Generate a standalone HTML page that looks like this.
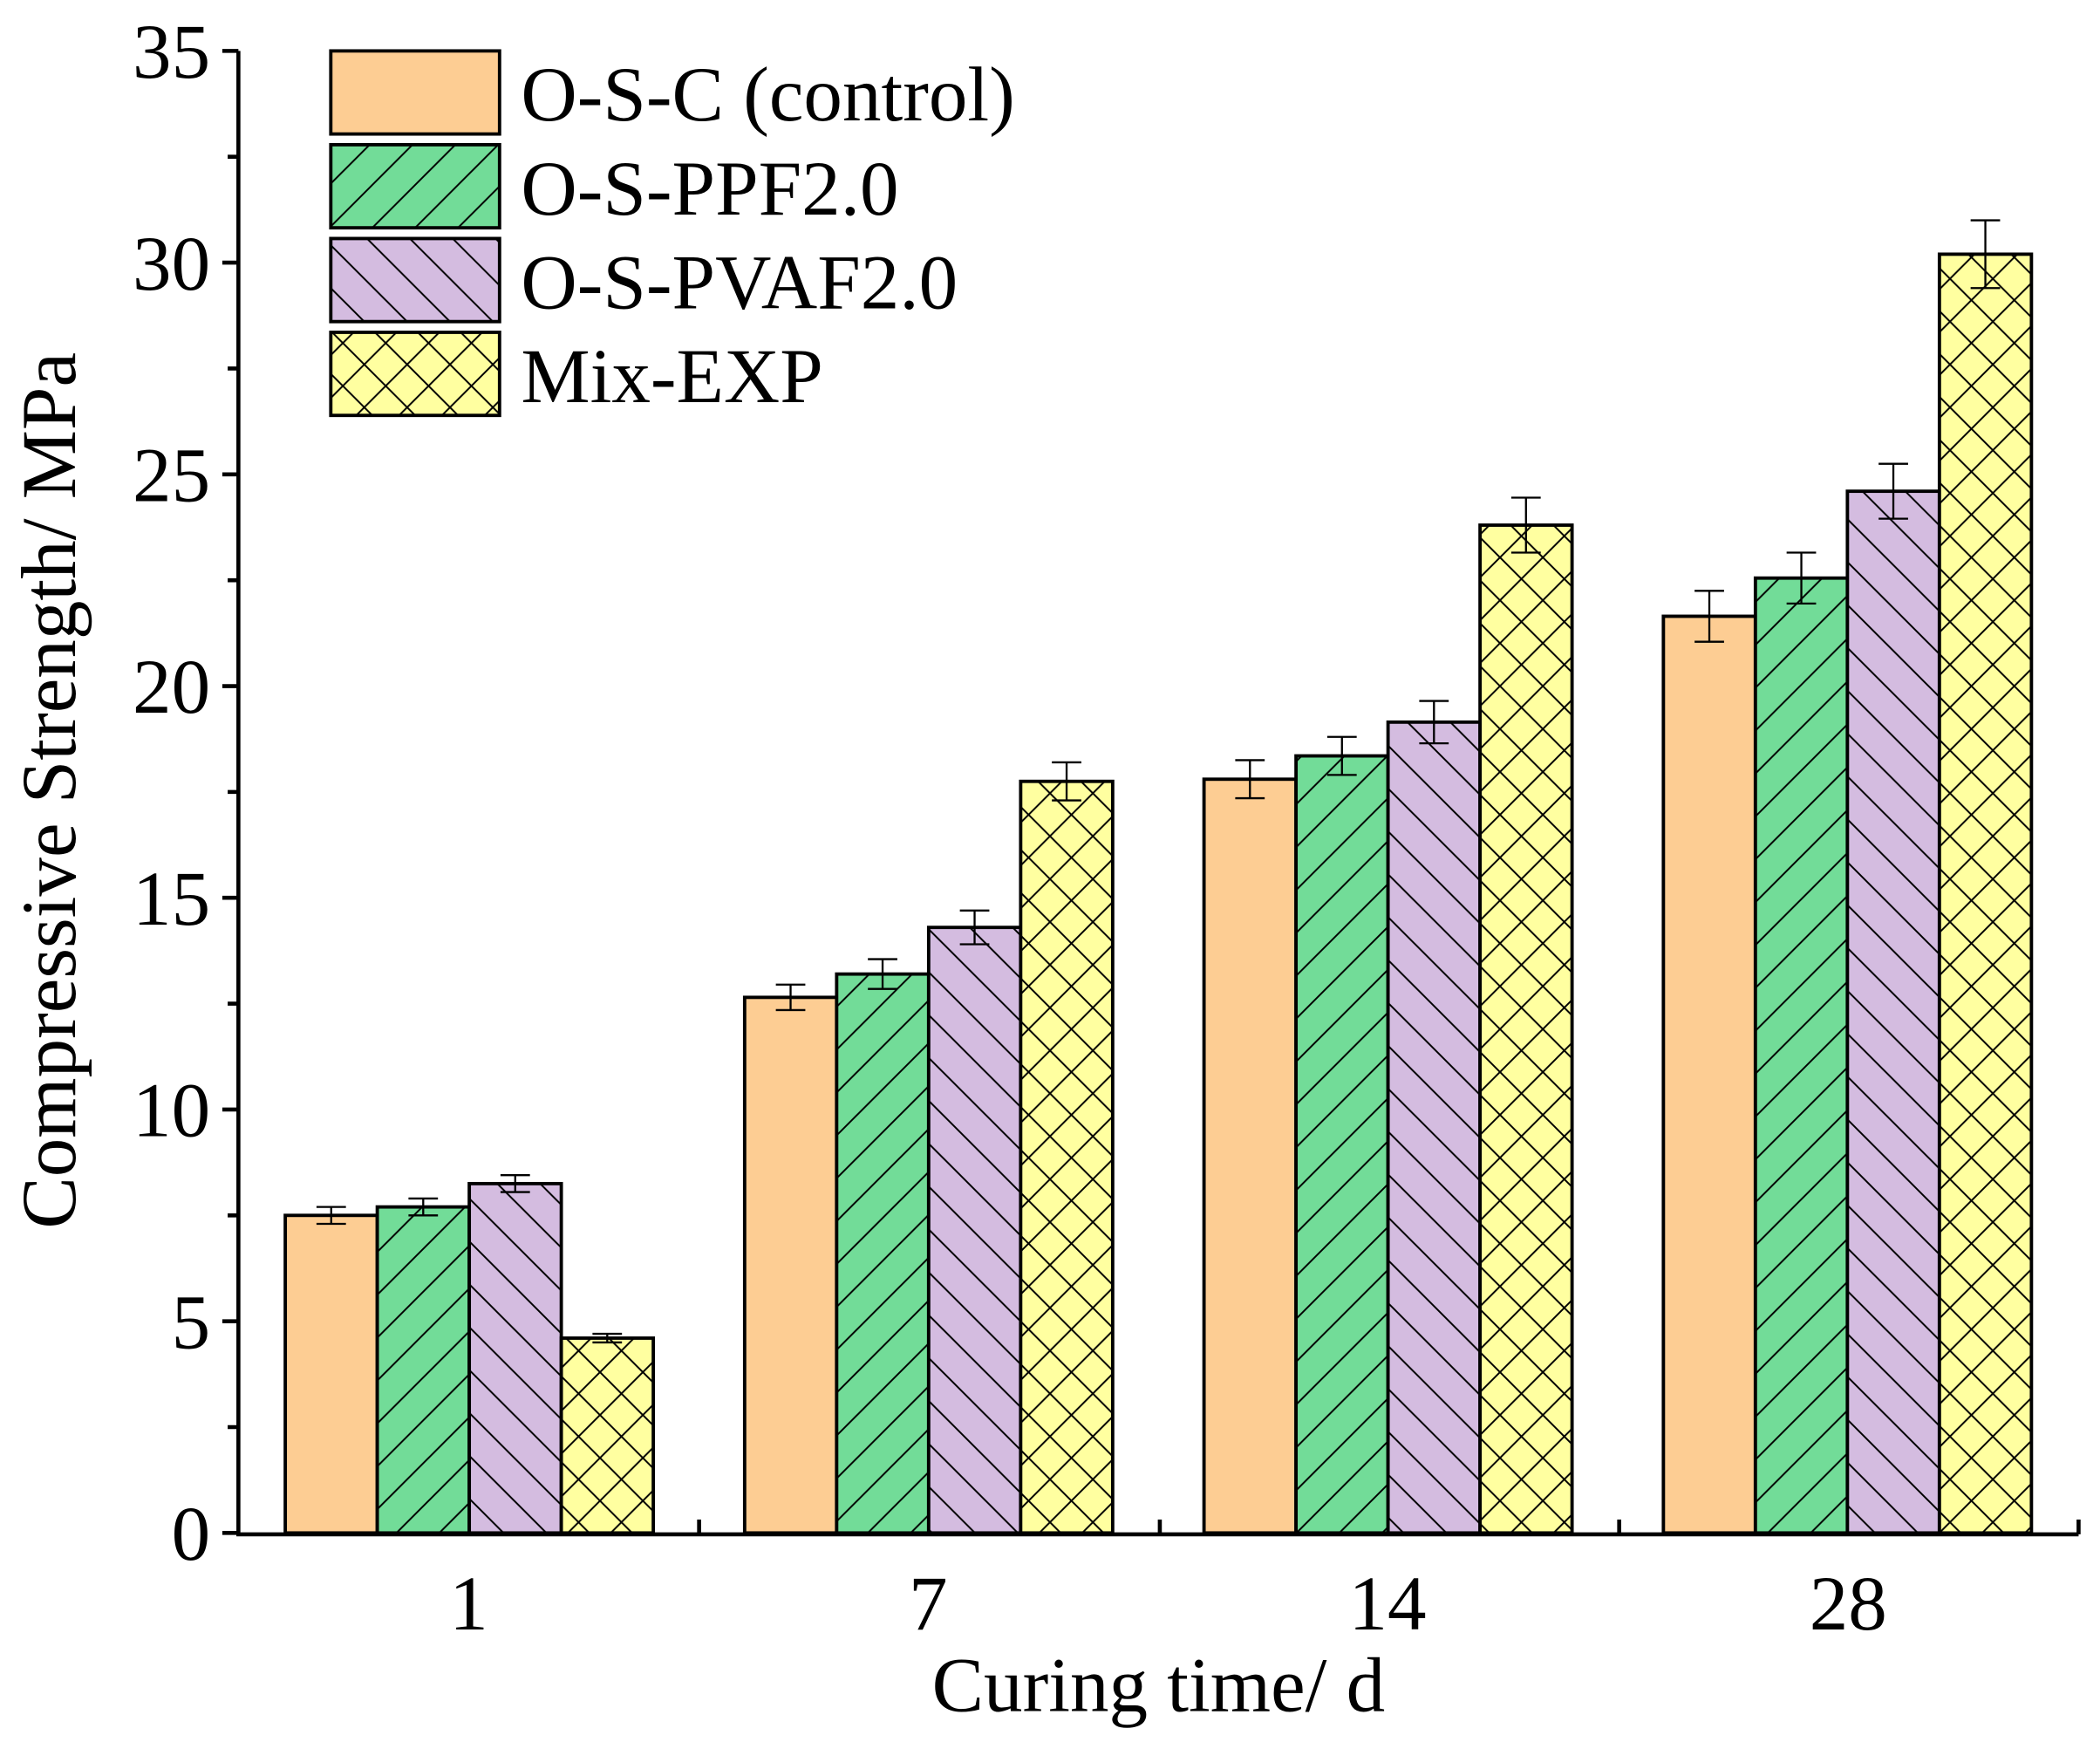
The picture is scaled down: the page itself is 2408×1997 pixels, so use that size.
<!DOCTYPE html>
<html><head><meta charset="utf-8"><style>html,body{margin:0;padding:0;background:#fff}svg{display:block}</style></head>
<body>
<svg width="2408" height="1997" viewBox="0 0 1568 1300" preserveAspectRatio="none" xmlns="http://www.w3.org/2000/svg" font-family="'Liberation Serif', serif">
<defs>
<pattern id="pg" patternUnits="userSpaceOnUse" width="32" height="32" x="0" y="0">
<rect width="32" height="32" fill="#72DC98"/><path d="M-8,8 L8,-8 M0,32 L32,0 M24,40 L40,24" stroke="#000" stroke-width="1.3"/></pattern>
<pattern id="pp" patternUnits="userSpaceOnUse" width="32" height="32">
<rect width="32" height="32" fill="#D4BCE0"/><path d="M-8,24 L8,40 M0,0 L32,32 M24,-8 L40,8" stroke="#000" stroke-width="1.3"/></pattern>
<pattern id="py" patternUnits="userSpaceOnUse" width="32" height="32">
<rect width="32" height="32" fill="#FFFFA0"/><path d="M-8,8 L8,-8 M0,32 L32,0 M24,40 L40,24 M-8,24 L8,40 M0,0 L32,32 M24,-8 L40,8" stroke="#000" stroke-width="1.3"/></pattern>
</defs>
<rect width="1568" height="1300" fill="#fff"/>
<g stroke="#000" stroke-width="2.5">
<rect x="213" y="907" width="68.7" height="237" fill="#FDCD93"/>
<rect x="281.7" y="900.7" width="68.7" height="243.3" fill="url(#pg)"/>
<rect x="350.4" y="883.3" width="68.7" height="260.7" fill="url(#pp)"/>
<rect x="419.1" y="998.6" width="68.7" height="145.4" fill="url(#py)"/>
<rect x="556" y="744.3" width="68.7" height="399.7" fill="#FDCD93"/>
<rect x="624.7" y="726.9" width="68.7" height="417.1" fill="url(#pg)"/>
<rect x="693.4" y="692.1" width="68.7" height="451.9" fill="url(#pp)"/>
<rect x="762.1" y="583.1" width="68.7" height="560.9" fill="url(#py)"/>
<rect x="899" y="581.5" width="68.7" height="562.5" fill="#FDCD93"/>
<rect x="967.7" y="564.1" width="68.7" height="579.9" fill="url(#pg)"/>
<rect x="1036.4" y="538.9" width="68.7" height="605.1" fill="url(#pp)"/>
<rect x="1105.1" y="391.9" width="68.7" height="752.1" fill="url(#py)"/>
<rect x="1242" y="459.9" width="68.7" height="684.1" fill="#FDCD93"/>
<rect x="1310.7" y="431.4" width="68.7" height="712.6" fill="url(#pg)"/>
<rect x="1379.4" y="366.6" width="68.7" height="777.4" fill="url(#pp)"/>
<rect x="1448.1" y="189.7" width="68.7" height="954.3" fill="url(#py)"/>
</g>
<g stroke="#000" stroke-width="1.5" fill="none">
<path d="M247.3,900.7V913.3M236.3,900.7H258.3M236.3,913.3H258.3"/>
<path d="M316,894.4V907M305,894.4H327M305,907H327"/>
<path d="M384.7,877V889.6M373.7,877H395.7M373.7,889.6H395.7"/>
<path d="M453.4,995.4V1001.8M442.4,995.4H464.4M442.4,1001.8H464.4"/>
<path d="M590.3,734.8V753.8M579.3,734.8H601.3M579.3,753.8H601.3"/>
<path d="M659,715.8V738M648,715.8H670M648,738H670"/>
<path d="M727.7,679.5V704.7M716.7,679.5H738.7M716.7,704.7H738.7"/>
<path d="M796.4,568.9V597.3M785.4,568.9H807.4M785.4,597.3H807.4"/>
<path d="M933.3,567.3V595.7M922.3,567.3H944.3M922.3,595.7H944.3"/>
<path d="M1002,549.9V578.3M991,549.9H1013M991,578.3H1013"/>
<path d="M1070.7,523.1V554.7M1059.7,523.1H1081.7M1059.7,554.7H1081.7"/>
<path d="M1139.4,371.4V412.4M1128.4,371.4H1150.4M1128.4,412.4H1150.4"/>
<path d="M1276.3,440.9V478.9M1265.3,440.9H1287.3M1265.3,478.9H1287.3"/>
<path d="M1345,412.4V450.4M1334,412.4H1356M1334,450.4H1356"/>
<path d="M1413.7,346.1V387.1M1402.7,346.1H1424.7M1402.7,387.1H1424.7"/>
<path d="M1482.4,164.4V215M1471.4,164.4H1493.4M1471.4,215H1493.4"/>
</g>
<g stroke="#000" stroke-width="3" fill="none">
<path d="M178,38 L178,1145 L1552,1145"/>
<path d="M166,38 H178 M166,196 H178 M166,354 H178 M166,512 H178 M166,670 H178 M166,828 H178 M166,986 H178 M166,1144 H178"/>
<path d="M170,117 H178 M170,275 H178 M170,433 H178 M170,591 H178 M170,749 H178 M170,907 H178 M170,1065 H178"/>
<path d="M522,1145 V1134 M866,1145 V1134 M1209,1145 V1134 M1552,1145 V1134"/>
</g>
<g font-size="58" text-anchor="end" fill="#000">
<text x="157" y="58">35</text><text x="157" y="216">30</text><text x="157" y="374">25</text><text x="157" y="532">20</text><text x="157" y="690">15</text><text x="157" y="848">10</text><text x="157" y="1006">5</text><text x="157" y="1164">0</text>
</g>
<g font-size="58" text-anchor="middle" fill="#000">
<text x="350" y="1216">1</text><text x="693" y="1216">7</text><text x="1036" y="1216">14</text><text x="1380" y="1216">28</text>
</g>
<text x="865" y="1277" font-size="58" text-anchor="middle">Curing time/ d</text>
<text transform="translate(56,590) rotate(-90)" font-size="58" text-anchor="middle">Compressive Strength/ MPa</text>
<g stroke="#000" stroke-width="2.5">
<rect x="247" y="38" width="126" height="62" fill="#FDCD93"/>
<rect x="247" y="108" width="126" height="62" fill="url(#pg)"/>
<rect x="247" y="178" width="126" height="62" fill="url(#pp)"/>
<rect x="247" y="248" width="126" height="62" fill="url(#py)"/>
</g>
<g font-size="58" fill="#000">
<text x="389" y="90">O-S-C (control)</text>
<text x="389" y="160">O-S-PPF2.0</text>
<text x="389" y="230">O-S-PVAF2.0</text>
<text x="389" y="300">Mix-EXP</text>
</g>
</svg>
</body></html>
